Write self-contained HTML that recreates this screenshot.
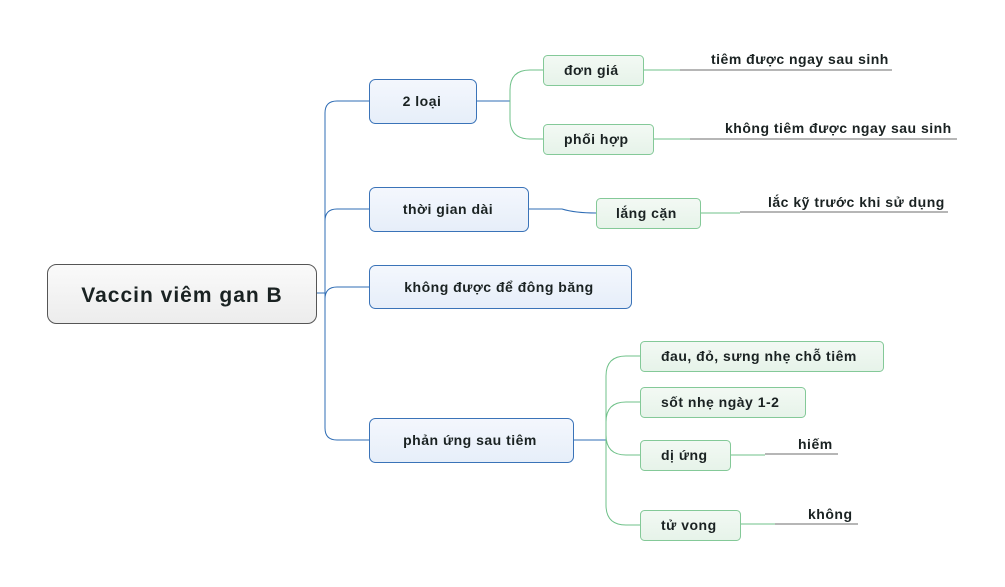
<!DOCTYPE html>
<html><head><meta charset="utf-8"><style>
html,body{margin:0;padding:0;background:#fff;}
svg{display:block}
text{font-family:"Liberation Sans","DejaVu Sans",sans-serif;font-weight:bold;fill:#1a2222;letter-spacing:0.5px;}
</style></head><body>
<svg width="1005" height="587" viewBox="0 0 1005 587" xmlns="http://www.w3.org/2000/svg">
<defs>
<linearGradient id="gc" x1="0" y1="0" x2="0" y2="1"><stop offset="0" stop-color="#fafafa"/><stop offset="1" stop-color="#ececec"/></linearGradient>
<linearGradient id="gb" x1="0" y1="0" x2="0" y2="1"><stop offset="0" stop-color="#f4f7fd"/><stop offset="1" stop-color="#e6eef9"/></linearGradient>
<linearGradient id="gg" x1="0" y1="0" x2="0" y2="1"><stop offset="0" stop-color="#f3f9f4"/><stop offset="1" stop-color="#e6f3e9"/></linearGradient>
</defs>
<g fill="none" stroke="#2f6db5" stroke-width="1">
<line x1="317" y1="293" x2="325" y2="293"/>
<path d="M369 101 H337 Q325 101 325 113 V428 Q325 440 337 440 H369"/>
<path d="M369 209 H337 Q325 209 325 221"/>
<path d="M369 287 H337 Q325 287 325 299"/>
<line x1="476" y1="101" x2="510" y2="101"/>
<path d="M528 209 H562 Q575 213 596 213"/>
<line x1="573" y1="440" x2="606" y2="440"/>
</g>
<g fill="none" stroke="#6fc189" stroke-width="1">
<path d="M543 70 H530 Q510 70 510 90 V119 Q510 139 530 139 H543"/>
<path d="M640 356 H626 Q606 356 606 376 V505 Q606 525 626 525 H640"/>
<path d="M640 402 H626 Q606 402 606 422"/>
<path d="M640 455 H626 Q606 455 606 435"/>
<line x1="643" y1="70" x2="680" y2="70"/>
<line x1="653" y1="139" x2="690" y2="139"/>
<line x1="700" y1="213" x2="740" y2="213"/>
<line x1="730" y1="455" x2="765" y2="455"/>
<line x1="740" y1="524" x2="775" y2="524"/>
</g>
<g stroke="#8a8a8a" stroke-width="1.2">
<line x1="680" y1="70" x2="892" y2="70"/>
<line x1="690" y1="139" x2="957" y2="139"/>
<line x1="740" y1="212" x2="948" y2="212"/>
<line x1="765" y1="454" x2="838" y2="454"/>
<line x1="775" y1="524" x2="858" y2="524"/>
</g>
<rect x="47.5" y="264.5" width="269" height="59" rx="9" fill="url(#gc)" stroke="#555" stroke-width="1"/>
<text x="182" y="302" font-size="21" text-anchor="middle" style="letter-spacing:1px">Vaccin viêm gan B</text>
<g fill="url(#gb)" stroke="#3a73b8" stroke-width="1">
<rect x="369.5" y="79.5" width="107" height="44" rx="6"/>
<rect x="369.5" y="187.5" width="159" height="44" rx="6"/>
<rect x="369.5" y="265.5" width="262" height="43" rx="6"/>
<rect x="369.5" y="418.5" width="204" height="44" rx="6"/>
</g>
<g font-size="14" text-anchor="middle">
<text x="422" y="106">2 loại</text>
<text x="448" y="214">thời gian dài</text>
<text x="499" y="292">không được để đông băng</text>
<text x="470" y="445">phản ứng sau tiêm</text>
</g>
<g fill="url(#gg)" stroke="#84c998" stroke-width="1">
<rect x="543.5" y="55.5" width="100" height="30" rx="4"/>
<rect x="543.5" y="124.5" width="110" height="30" rx="4"/>
<rect x="596.5" y="198.5" width="104" height="30" rx="4"/>
<rect x="640.5" y="341.5" width="243" height="30" rx="4"/>
<rect x="640.5" y="387.5" width="165" height="30" rx="4"/>
<rect x="640.5" y="440.5" width="90" height="30" rx="4"/>
<rect x="640.5" y="510.5" width="100" height="30" rx="4"/>
</g>
<g font-size="14">
<text x="564" y="75">đơn giá</text>
<text x="564" y="144">phối hợp</text>
<text x="616" y="218">lắng cặn</text>
<text x="661" y="361">đau, đỏ, sưng nhẹ chỗ tiêm</text>
<text x="661" y="407">sốt nhẹ ngày 1-2</text>
<text x="661" y="460">dị ứng</text>
<text x="661" y="530">tử vong</text>
</g>
<g font-size="14">
<text x="711" y="64">tiêm được ngay sau sinh</text>
<text x="725" y="133">không tiêm được ngay sau sinh</text>
<text x="768" y="207">lắc kỹ trước khi sử dụng</text>
<text x="798" y="449">hiếm</text>
<text x="808" y="519">không</text>
</g>
</svg>
</body></html>
